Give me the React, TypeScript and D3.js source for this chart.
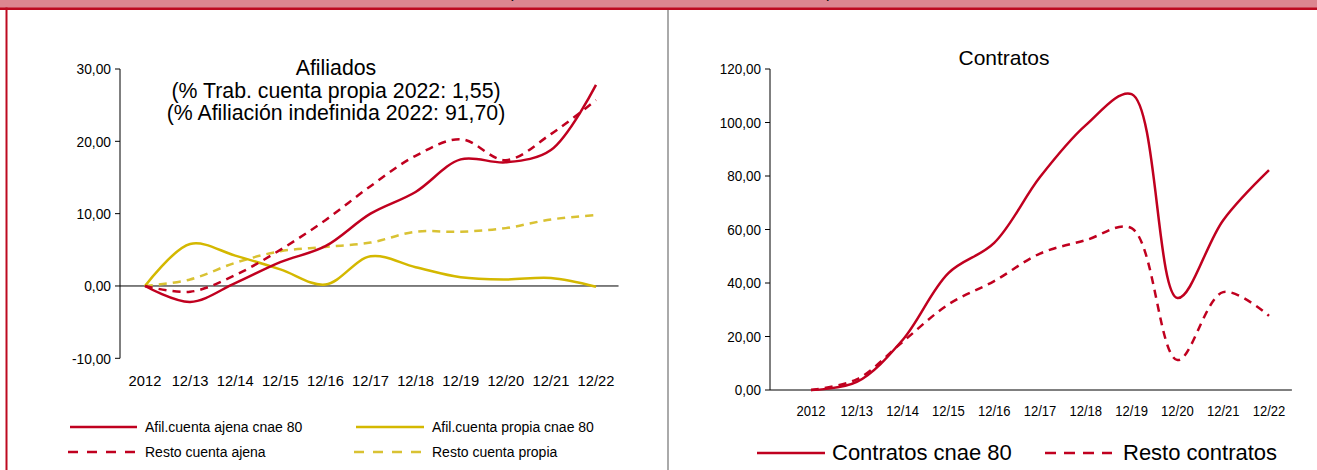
import React from "react";
import * as d3 from "d3";

const categories = ["2012", "12/13", "12/14", "12/15", "12/16", "12/17", "12/18", "12/19", "12/20", "12/21", "12/22"];

const afilAjena = [0, -2.2, 0.4, 3.3, 5.5, 10.0, 13.0, 17.5, 17.1, 18.8, 27.8];
const restoAjena = [0, -0.8, 1.5, 5.0, 9.1, 13.8, 18.0, 20.3, 17.4, 21.0, 25.7];
const afilPropia = [0, 5.8, 4.2, 2.3, 0.2, 4.1, 2.6, 1.2, 0.9, 1.1, -0.1];
const restoPropia = [0, 0.9, 3.2, 4.8, 5.4, 6.0, 7.5, 7.5, 8.0, 9.2, 9.8];

const contratosCnae = [0, 3, 18.7, 43.7, 55, 79.6, 99, 110.6, 34.4, 63.5, 82.2];
const restoContratos = [0, 4, 18, 32, 40.7, 51, 56, 60.5, 11.2, 36.6, 27.7];

const leftTicks = [-10, 0, 10, 20, 30];
const rightTicks = [0, 20, 40, 60, 80, 100, 120];

const leftTitle = ["Afiliados", "(% Trab. cuenta propia 2022: 1,55)", "(% Afiliación indefinida 2022: 91,70)"];
const rightTitle = "Contratos";
const headerText = "(Tasas de variación acumulada sobre 2012)";

const RED = "#c0001f";
const YELLOW = "#d4b800";
const YELLOW_D = "#d9c233";
const FONT = "'Liberation Sans', Arial, sans-serif";

const fmt = (v: number) => v.toFixed(2).replace(".", ",");

function CText(props: { x: number; y: number; size: number; sx: number; anchor?: "start" | "middle" | "end"; children: React.ReactNode }) {
  const { x, y, size, sx, anchor = "start", children } = props;
  return (
    <text transform={`translate(${x},${y}) scale(${sx},1)`} textAnchor={anchor} fontSize={size} fill="#000">{children}</text>
  );
}

function Chart(props: {
  x0: number; x1: number; axisX: number; yTop: number; yBot: number; domain: [number, number]; ticks: number[];
  series: { values: number[]; color: string; dash?: string }[]; tickSize: number; tickSx: number; catSize: number; catSx: number; labelY: number;
}) {
  const { x0, x1, axisX, yTop, yBot, domain, ticks, series, tickSize, tickSx, catSize, catSx, labelY } = props;
  const x = d3.scalePoint<string>().domain(categories).range([x0, x1]);
  const y = d3.scaleLinear().domain(domain).range([yBot, yTop]);
  const line = d3.line<number>().x((_, i) => x(categories[i]) as number).y((d) => y(d)).curve(d3.curveCatmullRom.alpha(0.5));
  const xEnd = x1 + (x1 - x0) / 20;
  return (
    <g fontFamily={FONT}>
      <line x1={axisX} x2={axisX} y1={y(domain[1])} y2={y(domain[0])} stroke="#000" strokeWidth={1} />
      {ticks.map((t) => (
        <g key={t}>
          <line x1={axisX - 5} x2={axisX} y1={y(t)} y2={y(t)} stroke="#000" />
          <CText x={axisX - 9} y={y(t) + tickSize * 0.35} size={tickSize} sx={tickSx} anchor="end">{fmt(t)}</CText>
        </g>
      ))}
      <line x1={axisX} x2={xEnd} y1={y(0)} y2={y(0)} stroke="#000" strokeWidth={1} />
      {categories.map((c) => (
        <CText key={c} x={x(c) as number} y={labelY} size={catSize} sx={catSx} anchor="middle">{c}</CText>
      ))}
      {series.map((s, i) => (
        <path key={i} d={line(s.values) || ""} fill="none" stroke={s.color} strokeWidth={2.5} strokeDasharray={s.dash} />
      ))}
    </g>
  );
}

export default function App() {
  return (
    <svg width={1317} height={470} style={{ position: "absolute", left: 0, top: 0 }} fontFamily={FONT}>
      <rect x={0} y={0} width={1317} height={470} fill="#fff" />
      <rect x={0} y={0} width={1317} height={8} fill="#dc8690" />
      <text x={670} y={-2} textAnchor="middle" fontSize={17} textLength={324} lengthAdjust="spacingAndGlyphs" fill="#000">{headerText}</text>
      <rect x={0} y={7.5} width={1317} height={2.5} fill="#bd0a20" />
      <rect x={5.5} y={7.5} width={2} height={470} fill="#bd0a20" />
      <rect x={667} y={10} width={2} height={460} fill="#aaa" />

      <Chart x0={145} x1={596} axisX={120} yTop={69} yBot={358.3} domain={[-10, 30]} ticks={leftTicks}
        tickSize={15} tickSx={0.92} catSize={15.5} catSx={0.95} labelY={386}
        series={[
          { values: restoPropia, color: YELLOW_D, dash: "8,6" },
          { values: afilPropia, color: YELLOW },
          { values: restoAjena, color: RED, dash: "8,6" },
          { values: afilAjena, color: RED },
        ]} />
      {leftTitle.map((t, i) => (
        <text key={i} x={336} y={75 + i * 22.5} textAnchor="middle" fontSize={21.3} fill="#000">{t}</text>
      ))}

      <Chart x0={811} x1={1269} axisX={770} yTop={69} yBot={390} domain={[0, 120]} ticks={rightTicks}
        tickSize={15.5} tickSx={0.87} catSize={15} catSx={0.87} labelY={416}
        series={[
          { values: restoContratos, color: RED, dash: "8,6" },
          { values: contratosCnae, color: RED },
        ]} />
      <text x={1004} y={65} textAnchor="middle" fontSize={21} fill="#000">{rightTitle}</text>

      <g fontFamily={FONT} fontSize={14} fill="#000">
        <line x1={70} x2={137} y1={427} y2={427} stroke={RED} strokeWidth={2.5} />
        <text x={145} y={432}>Afil.cuenta ajena cnae 80</text>
        <line x1={356} x2={424} y1={427} y2={427} stroke={YELLOW} strokeWidth={2.5} />
        <text x={432} y={432}>Afil.cuenta propia cnae 80</text>
        <line x1={68} x2={137} y1={452} y2={452} stroke={RED} strokeWidth={2.5} strokeDasharray="10,9" />
        <text x={145} y={457}>Resto cuenta ajena</text>
        <line x1={354} x2={424} y1={452} y2={452} stroke={YELLOW_D} strokeWidth={2.5} strokeDasharray="10,9" />
        <text x={432} y={457}>Resto cuenta propia</text>
      </g>
      <g fontFamily={FONT} fill="#000">
        <line x1={757} x2={825} y1={453} y2={453} stroke={RED} strokeWidth={2.5} />
        <CText x={832} y={460} size={22} sx={1.0}>Contratos cnae 80</CText>
        <line x1={1045} x2={1112} y1={453} y2={453} stroke={RED} strokeWidth={2.5} strokeDasharray="11,8" />
        <CText x={1123} y={460} size={22} sx={1.0}>Resto contratos</CText>
      </g>
    </svg>
  );
}
